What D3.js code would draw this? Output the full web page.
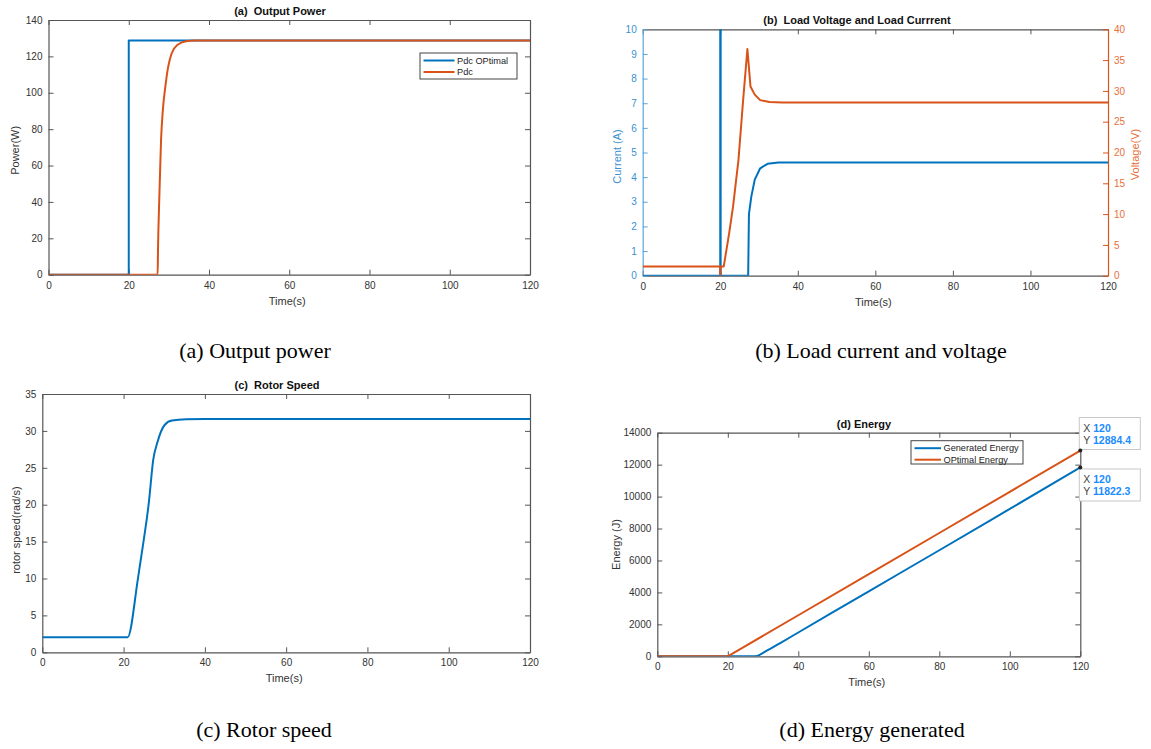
<!DOCTYPE html>
<html>
<head>
<meta charset="utf-8">
<script src="https://cdn.jsdelivr.net/npm/d3@7"></script>
<style>
body { margin: 0; background: #fff; }
text { font-family: "Liberation Sans", Arial, sans-serif; }
.caption { font-family: "Liberation Serif", "Times New Roman", serif; font-size: 22px; fill: #000; }
</style>
</head>
<body>
<div id="chart"></div>
<script>
// Shared time axis
var timeTicks = [0, 20, 40, 60, 80, 100, 120];

// (a) Output power
var powerTicks = [0, 20, 40, 60, 80, 100, 120, 140];
var pdcOptTime = [0, 20, 20, 120];
var pdcOptValue = [0, 0, 128.7, 128.7];
var pdcTime = [0, 27.2, 27.3, 27.6, 28.05, 28.5, 29.1, 29.8, 30.7, 32.1, 34.3, 36.5, 40, 120];
var pdcValue = [0, 0, 15, 41, 74, 90.6, 103, 114, 121.7, 126.3, 128.3, 128.7, 128.7, 128.7];

// (b) Load current and voltage
var currentTicks = [0, 1, 2, 3, 4, 5, 6, 7, 8, 9, 10];
var voltageTicks = [0, 5, 10, 15, 20, 25, 30, 35, 40];
var currentTime = [0, 20, 20, 20.1, 20.1, 27.2, 27.4, 28.0, 28.9, 30.3, 32.2, 35, 40, 120];
var currentValue = [0, 0, 10.5, 10.5, 0, 0, 2.5, 3.2, 3.9, 4.36, 4.54, 4.59, 4.59, 4.59];
var voltageTime = [0, 20, 20, 20.1, 20.9, 22.3, 23.3, 24.7, 25.9, 27.0, 27.8, 28.9, 30.3, 32.7, 36, 120];
var voltageValue = [1.5, 1.5, 0, 1.5, 1.5, 6.9, 11.2, 18.8, 28.5, 36.8, 30.7, 29.4, 28.5, 28.2, 28.1, 28.1];

// (c) Rotor speed
var speedTicks = [0, 5, 10, 15, 20, 25, 30, 35];
var speedTime = [0, 21, 23.55, 24.9, 26.2, 27.3, 28.4, 30.1, 31.9, 35.4, 40, 120];
var speedValue = [2.03, 2.03, 10.06, 15.0, 20.2, 26.1, 28.6, 30.8, 31.4, 31.57, 31.6, 31.6];

// (d) Energy
var energyTicks = [0, 2000, 4000, 6000, 8000, 10000, 12000, 14000];
var generatedTime = [0, 27.5, 28.5, 30, 32, 35, 40, 60, 80, 100, 120];
var generatedEnergy = [0, 0, 40, 218, 462, 846, 1490, 4070, 6640, 9230, 11822.3];
var optimalTime = [0, 20, 40, 60, 80, 100, 120];
var optimalEnergy = [0, 0, 2570, 5150, 7720, 10300, 12884.4];
var tipValues = [12884.4, 11822.3];

var blue = "#0072bd", orange = "#d95319", axisGray = "#555", labelGray = "#333";

var svg = d3.select("#chart")
    .append("svg")
    .attr("width", 1151)
    .attr("height", 749);

function zip(ts, vs) {
    return ts.map(function(t, i) { return [t, vs[i]]; });
}

// draws the box, ticks and labels of one MATLAB-like axes
function panel(id, box, yDomain, yTicks, opts) {
    var g = svg.append("g");
    var x = d3.scaleLinear().domain([0, 120]).range([box.left, box.right]);
    var y = d3.scaleLinear().domain(yDomain).range([box.bottom, box.top]);
    var leftColor = opts.leftColor || axisGray;
    var leftText = opts.leftText || labelGray;

    g.append("clipPath").attr("id", id)
        .append("rect")
        .attr("x", box.left).attr("y", box.top)
        .attr("width", box.right - box.left).attr("height", box.bottom - box.top);

    var bottom = g.append("g")
        .attr("transform", "translate(0," + box.bottom + ")")
        .call(d3.axisBottom(x).tickValues(timeTicks).tickSizeInner(-5).tickSizeOuter(0).tickPadding(7));
    var top = g.append("g")
        .attr("transform", "translate(0," + box.top + ")")
        .call(d3.axisTop(x).tickValues(timeTicks).tickSizeInner(-5).tickSizeOuter(0).tickFormat(""));
    var left = g.append("g")
        .attr("transform", "translate(" + box.left + ",0)")
        .call(d3.axisLeft(y).tickValues(yTicks).tickSizeInner(-5).tickSizeOuter(0).tickPadding(6)
            .tickFormat(d3.format("d")));
    [bottom, top].forEach(function(a) {
        a.selectAll("path, line").attr("stroke", axisGray);
        a.selectAll("text").attr("fill", labelGray).attr("font-size", 10);
    });
    left.selectAll("path, line").attr("stroke", leftColor);
    left.selectAll("text").attr("fill", leftText).attr("font-size", 10);

    if (opts.right) {
        var y2 = d3.scaleLinear().domain(opts.right.domain).range([box.bottom, box.top]);
        var right = g.append("g")
            .attr("transform", "translate(" + box.right + ",0)")
            .call(d3.axisRight(y2).tickValues(opts.right.ticks).tickSizeInner(-5).tickSizeOuter(0).tickPadding(6));
        right.selectAll("path, line").attr("stroke", orange);
        right.selectAll("text").attr("fill", "#e8703a").attr("font-size", 10);
        g.append("text")
            .attr("transform", "translate(" + (box.right + 31) + "," + ((box.top + box.bottom) / 2 + 2) + ") rotate(-90)")
            .attr("text-anchor", "middle")
            .attr("font-size", 11)
            .attr("fill", "#e8703a")
            .text(opts.right.label);
        g.y2 = y2;
    } else {
        var rightAx = g.append("g")
            .attr("transform", "translate(" + box.right + ",0)")
            .call(d3.axisRight(y).tickValues(yTicks).tickSizeInner(-5).tickSizeOuter(0).tickFormat(""));
        rightAx.selectAll("path, line").attr("stroke", axisGray);
    }

    g.selectAll(".domain").attr("stroke-width", 1.2);

    // title
    g.append("text")
        .attr("x", opts.titleX)
        .attr("y", box.top - 5)
        .attr("text-anchor", "middle")
        .attr("font-size", 11)
        .attr("font-weight", "bold")
        .attr("fill", "#111")
        .style("white-space", "pre")
        .text(opts.title);

    // x label
    g.append("text")
        .attr("x", (box.left + box.right) / 2 - 2)
        .attr("y", box.bottom + 30)
        .attr("text-anchor", "middle")
        .attr("font-size", 11)
        .attr("fill", labelGray)
        .text("Time(s)");

    // y label
    g.append("text")
        .attr("transform", "translate(" + (box.left - opts.yLabelOffset) + "," + ((box.top + box.bottom) / 2 + opts.yLabelShift) + ") rotate(-90)")
        .attr("text-anchor", "middle")
        .attr("font-size", 11)
        .attr("fill", opts.yLabelColor || labelGray)
        .text(opts.yLabel);

    g.x = x;
    g.y = y;
    return g;
}

function drawLine(g, clipId, xs, ys, pts, color, curve) {
    var line = d3.line()
        .x(function(d) { return xs(d[0]); })
        .y(function(d) { return ys(d[1]); })
        .curve(curve || d3.curveLinear);
    g.append("path")
        .datum(pts)
        .attr("clip-path", "url(#" + clipId + ")")
        .attr("fill", "none")
        .attr("stroke", color)
        .attr("stroke-width", 2)
        .attr("stroke-linejoin", "round")
        .attr("d", line);
}

function legend(g, lx, ly, w, h, names, colors, sample) {
    var lg = g.append("g").attr("transform", "translate(" + lx + "," + ly + ")");
    lg.append("rect")
        .attr("width", w).attr("height", h)
        .attr("fill", "#fff")
        .attr("stroke", "#444")
        .attr("stroke-width", 1);
    names.forEach(function(n, i) {
        var yy = 7.5 + i * 11.5;
        lg.append("line")
            .attr("x1", 3.5).attr("x2", 3.5 + sample)
            .attr("y1", yy).attr("y2", yy)
            .attr("stroke", colors[i]).attr("stroke-width", 2);
        lg.append("text")
            .attr("x", sample + 6).attr("y", yy + 3.2)
            .attr("font-size", 9.2)
            .attr("fill", "#222")
            .text(n);
    });
}

// (a)
var pa = panel("clipA", {left: 48.5, right: 530, top: 20, bottom: 274.7}, [0, 140], powerTicks, {
    title: "(a)  Output Power", titleX: 280, yLabel: "Power(W)", yLabelOffset: 30, yLabelShift: 3
});
drawLine(pa, "clipA", pa.x, pa.y, zip(pdcOptTime, pdcOptValue), blue);
drawLine(pa, "clipA", pa.x, pa.y, zip(pdcTime, pdcValue), orange, d3.curveMonotoneX);
legend(pa, 420, 53, 97, 26, ["Pdc OPtimal", "Pdc"], [blue, orange], 31);

// (b)
var pb = panel("clipB", {left: 642.7, right: 1108, top: 29.3, bottom: 275.7}, [0, 10], currentTicks, {
    title: "(b)  Load Voltage and Load Currrent", titleX: 857, yLabel: "Current (A)", yLabelOffset: 22, yLabelShift: 4,
    yLabelColor: "#3a8fd0", leftColor: "#5aa5dc", leftText: "#3a8fd0",
    right: {domain: [0, 40], ticks: voltageTicks, label: "Voltage(V)"}
});
drawLine(pb, "clipB", pb.x, pb.y, zip(currentTime, currentValue), blue);
drawLine(pb, "clipB", pb.x, pb.y2, zip(voltageTime, voltageValue), orange);

// (c)
var pc = panel("clipC", {left: 42.3, right: 530, top: 394, bottom: 652.3}, [0, 35], speedTicks, {
    title: "(c)  Rotor Speed", titleX: 277, yLabel: "rotor speed(rad/s)", yLabelOffset: 22, yLabelShift: 7
});
drawLine(pc, "clipC", pc.x, pc.y, zip(speedTime, speedValue), blue, d3.curveMonotoneX);

// (d)
var pd = panel("clipD", {left: 657.3, right: 1080.3, top: 432.7, bottom: 656.3}, [0, 14000], energyTicks, {
    title: "(d) Energy", titleX: 864, yLabel: "Energy (J)", yLabelOffset: 37, yLabelShift: 0
});
drawLine(pd, "clipD", pd.x, pd.y, zip(generatedTime, generatedEnergy), blue, d3.curveMonotoneX);
drawLine(pd, "clipD", pd.x, pd.y, zip(optimalTime, optimalEnergy), orange);
legend(pd, 911, 440.7, 112, 23.3, ["Generated Energy", "OPtimal Energy"], [blue, orange], 26.5);

// data tips at t = 120
tipValues.forEach(function(v, i) {
    var px = pd.x(120), py = pd.y(v);
    var by = i === 0 ? py - 33 : py + 1.5;
    var tip = pd.append("g").attr("transform", "translate(" + (px - 1) + "," + by + ")");
    tip.append("rect")
        .attr("width", 61).attr("height", 32)
        .attr("fill", "#fff")
        .attr("stroke", "#c8c8c8")
        .attr("stroke-width", 1);
    ["X", "Y"].forEach(function(k, j) {
        var t = tip.append("text")
            .attr("x", 4).attr("y", 14.5 + j * 11.5)
            .attr("font-size", 10.5);
        t.append("tspan").attr("fill", "#444").text(k + " ");
        t.append("tspan").attr("fill", "#1a8cff").attr("font-weight", "bold")
            .text(j === 0 ? "120" : d3.format(".1f")(v));
    });
    pd.append("circle")
        .attr("cx", px).attr("cy", py).attr("r", 2)
        .attr("fill", "#222");
});

// figure captions
var captions = [
    {x: 255, y: 358, text: "(a) Output power"},
    {x: 881, y: 358, text: "(b) Load current and voltage"},
    {x: 264, y: 737, text: "(c) Rotor speed"},
    {x: 872, y: 737, text: "(d) Energy generated"}
];
svg.selectAll(".caption")
    .data(captions)
    .enter()
    .append("text")
    .attr("class", "caption")
    .attr("x", function(d) { return d.x; })
    .attr("y", function(d) { return d.y; })
    .attr("text-anchor", "middle")
    .text(function(d) { return d.text; });
</script>
</body>
</html>
